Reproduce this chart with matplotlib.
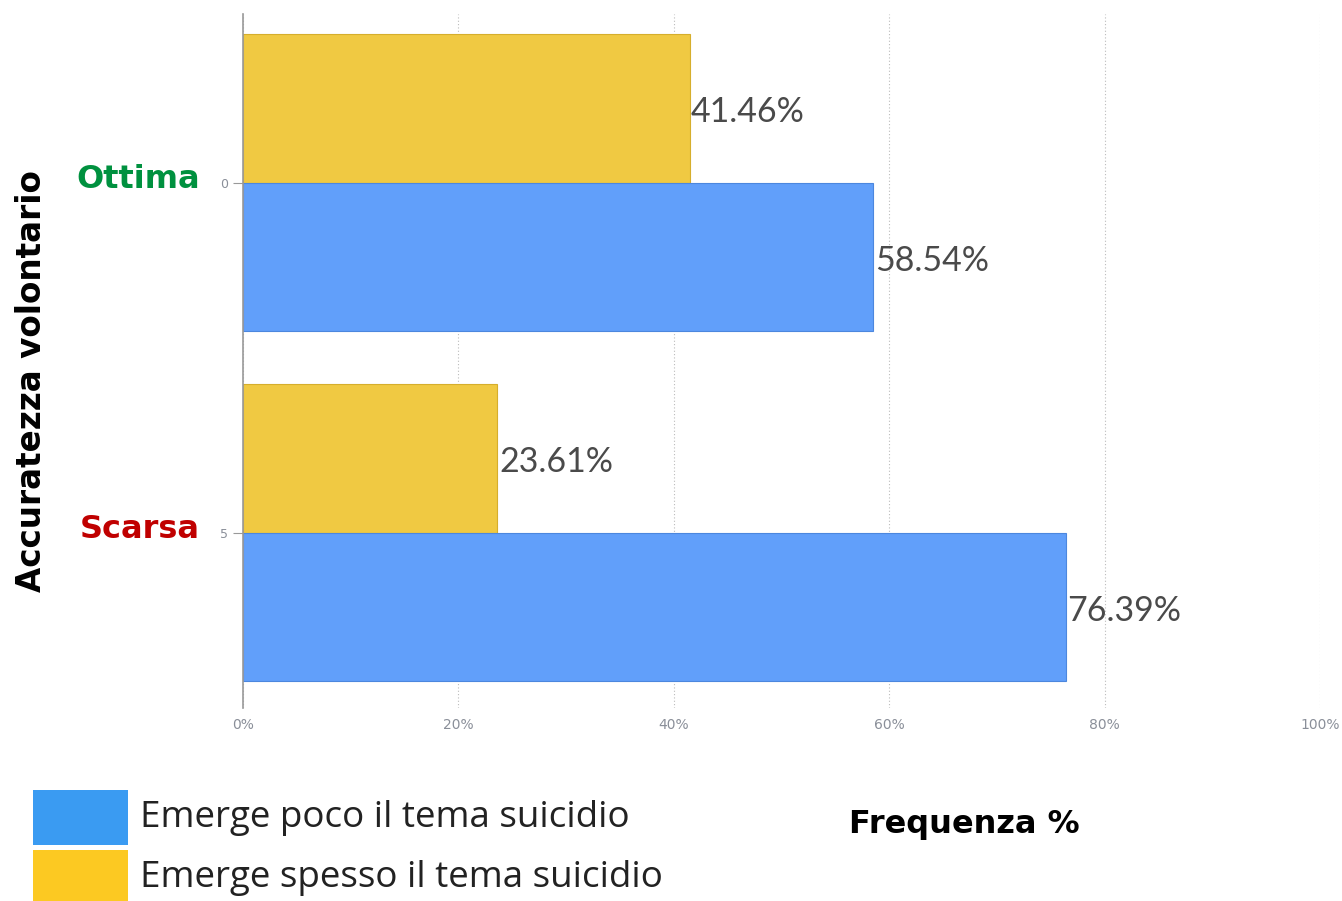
import matplotlib.pyplot as plt
from matplotlib.patches import Rectangle

# data
positions = [0, 5]
categories = ['Ottima', 'Scarsa']
cat_colors = ['#00913F', '#C00000']
poco = [58.54, 76.39]      # Emerge poco il tema suicidio
spesso = [41.46, 23.61]    # Emerge spesso il tema suicidio
xticks = [0, 20, 40, 60, 80, 100]
xtick_labels = ['0%', '20%', '40%', '60%', '80%', '100%']
legend_labels = ['Emerge poco il tema suicidio', 'Emerge spesso il tema suicidio']
legend_colors = ['#3A9BF2', '#FCC922']

blue = '#619FFA'
yellow = '#F0C942'

W, H = 1342, 901
fig = plt.figure(figsize=(W / 100, H / 100), dpi=100)
ax = fig.add_axes([243/W, 1 - 708/H, (1320 - 243)/W, (708 - 14)/H])

h = 2.12
off = 1.06
ys_spesso = [p - off for p in positions]
ys_poco = [p + off for p in positions]
ax.barh(ys_spesso, spesso, height=h, color=yellow, edgecolor='#D6AE2C', linewidth=0.8, zorder=2)
ax.barh(ys_poco, poco, height=h, color=blue, edgecolor='#4C87DE', linewidth=0.8, zorder=2)

for y, v in zip(ys_spesso + ys_poco, spesso + poco):
    ax.text(v + 0.15, y + 0.05, f'{v:.2f}%', va='center', ha='left', fontsize=24.5,
            color='#4a4a4a', family='Lato', zorder=3)

ax.set_xlim(0, 100)
ax.set_ylim(7.5, -2.41)
ax.set_xticks(xticks)
ax.set_xticklabels(xtick_labels, color='#8a8f99', fontsize=10)
ax.set_yticks(positions)
ax.set_yticklabels(['0', '5'], color='#8a8f99', fontsize=9)
ax.tick_params(axis='x', length=0, pad=7)
ax.tick_params(axis='y', length=7, color='#999999', pad=4)
ax.grid(axis='x', linestyle=(0, (1, 2)), color='#bbbbbb', linewidth=0.8, zorder=0)
for s in ['top', 'right', 'bottom']:
    ax.spines[s].set_visible(False)
ax.spines['left'].set_color('#999999')
ax.spines['left'].set_linewidth(1.2)

# category names
for p, name, c in zip(positions, categories, cat_colors):
    ax.text(-4.0, p - 0.05, name, ha='right', va='center', fontsize=23, fontweight='bold',
            color=c, family='DejaVu Sans', clip_on=False)

fig.text(32/W, 1 - 381/H, 'Accuratezza volontario', rotation=90, ha='center', va='center',
         fontsize=23.5, fontweight='bold', family='DejaVu Sans')
fig.text(964/W, 1 - 825/H, 'Frequenza %', ha='center', va='center',
         fontsize=23, fontweight='bold', family='DejaVu Sans')

# legend (looks like a pasted image in the original)
for i, (lab, col) in enumerate(zip(legend_labels, legend_colors)):
    top = 790 + i * 60
    fig.add_artist(Rectangle((33/W, 1 - (top + 55)/H), 95/W, 55/H, transform=fig.transFigure,
                             facecolor=col, edgecolor='none'))
    fig.text(140/W, 1 - (top + 28)/H, lab, ha='left', va='center', fontsize=26.5,
             family='Open Sans', color='#222222')

fig.savefig('out.png', dpi=100)
